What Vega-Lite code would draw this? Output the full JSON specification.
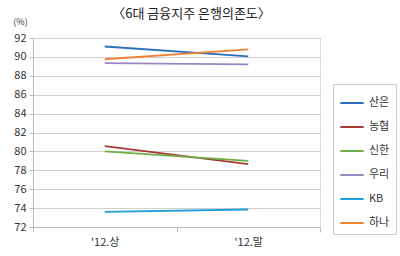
{
  "$schema": "https://vega.github.io/schema/vega-lite/v6.json",
  "autosize": "none",
  "width": 287,
  "height": 189,
  "padding": {"left": 33, "top": 38, "right": 80, "bottom": 29},
  "background": "white",
  "title": {
    "text": "〈6대 금융지주 은행의존도〉",
    "fontSize": 13,
    "fontWeight": "normal",
    "font": "Noto Sans CJK KR",
    "color": "#222222",
    "anchor": "middle",
    "dx": 15,
    "offset": 12,
    "dy": 16
  },
  "data": {
    "values": [
      {"period": "'12.상", "bank": "산은", "value": 91.1},
      {"period": "'12.말", "bank": "산은", "value": 90.05},
      {"period": "'12.상", "bank": "농협", "value": 80.55},
      {"period": "'12.말", "bank": "농협", "value": 78.65},
      {"period": "'12.상", "bank": "신한", "value": 80.0},
      {"period": "'12.말", "bank": "신한", "value": 79.0},
      {"period": "'12.상", "bank": "우리", "value": 89.35},
      {"period": "'12.말", "bank": "우리", "value": 89.2},
      {"period": "'12.상", "bank": "KB", "value": 73.6},
      {"period": "'12.말", "bank": "KB", "value": 73.85},
      {"period": "'12.상", "bank": "하나", "value": 89.75},
      {"period": "'12.말", "bank": "하나", "value": 90.8}
    ]
  },
  "mark": {"type": "line", "strokeWidth": 1.8},
  "encoding": {
    "x": {
      "field": "period",
      "type": "ordinal",
      "sort": ["'12.상", "'12.말"],
      "scale": {"type": "band", "paddingInner": 0, "paddingOuter": 0},
      "axis": {
        "title": null,
        "labelAngle": 0,
        "tickBand": "extent",
        "domainColor": "#bbbbbb",
        "tickColor": "#bbbbbb",
        "tickSize": 5,
        "labelFontSize": 11,
        "labelColor": "#333333",
        "labelFont": "Noto Sans CJK KR",
        "labelPadding": 4,
        "grid": false
      }
    },
    "y": {
      "field": "value",
      "type": "quantitative",
      "scale": {"domain": [72, 92], "nice": false, "zero": false},
      "axis": {
        "values": [72, 74, 76, 78, 80, 82, 84, 86, 88, 90, 92],
        "title": "(%)",
        "titleAngle": 0,
        "titleX": -13,
        "titleY": -12,
        "titleAlign": "center",
        "titleBaseline": "bottom",
        "titleFontSize": 9,
        "titleFontWeight": "normal",
        "titleColor": "#333333",
        "titleFont": "Noto Sans CJK KR",
        "labelFontSize": 11,
        "labelColor": "#333333",
        "labelFont": "Noto Sans CJK KR",
        "labelPadding": 3,
        "domainColor": "#bbbbbb",
        "tickColor": "#bbbbbb",
        "tickSize": 4,
        "gridColor": "#d0d0d0",
        "gridWidth": 1
      }
    },
    "color": {
      "field": "bank",
      "type": "nominal",
      "scale": {
        "domain": ["산은", "농협", "신한", "우리", "KB", "하나"],
        "range": ["#2f6fba", "#a63c3a", "#6fae45", "#9b86c4", "#1f9ed6", "#ee8236"]
      },
      "legend": {
        "title": null,
        "orient": "none",
        "legendX": 300,
        "legendY": 46,
        "symbolType": "stroke",
        "symbolSize": 550,
        "symbolStrokeWidth": 2,
        "rowPadding": 6,
        "labelFontSize": 11,
        "labelColor": "#333333",
        "labelFont": "Noto Sans CJK KR",
        "strokeColor": "#cccccc",
        "padding": 6,
        "labelOffset": 4
      }
    }
  }
}
